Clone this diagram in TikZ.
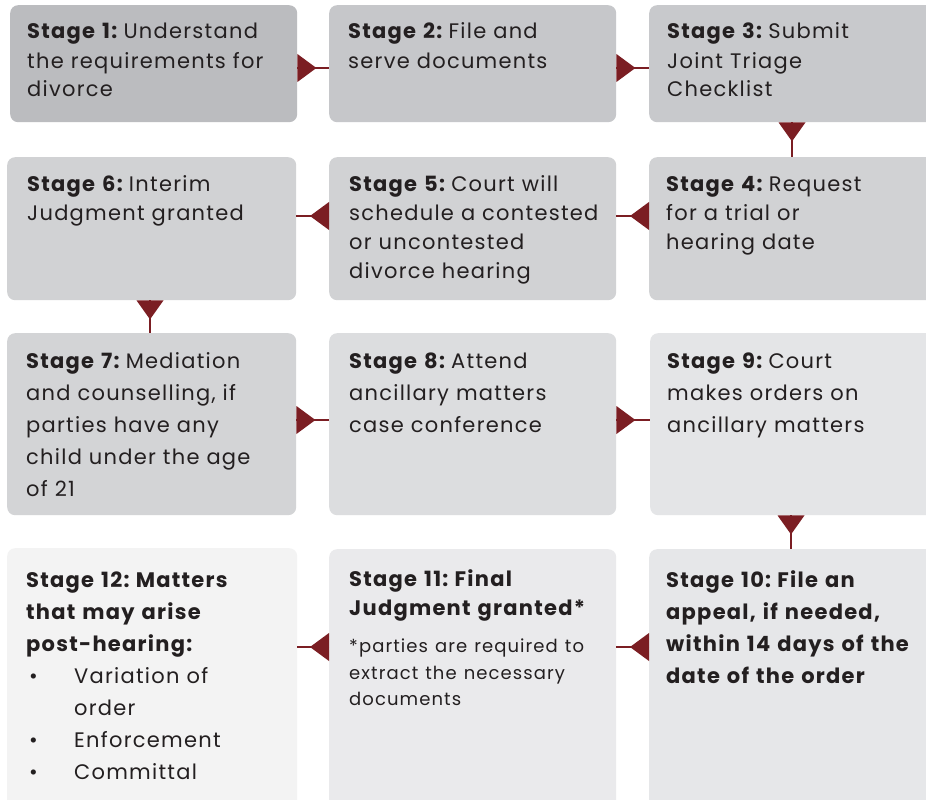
\documentclass[tikz,border=0pt]{standalone}
\usepackage{fontspec}
\setmainfont{Poppins}[LetterSpace=6]
\usetikzlibrary{calc}
\definecolor{ink}{HTML}{231F20}
\definecolor{arr}{HTML}{7B1E23}
\definecolor{cA}{HTML}{BBBCBF}
\definecolor{cB}{HTML}{C6C7CA}
\definecolor{cC}{HTML}{C8C9CC}
\definecolor{cD}{HTML}{D1D2D4}
\definecolor{cE}{HTML}{D3D4D6}
\definecolor{cF}{HTML}{DCDDDF}
\definecolor{cG}{HTML}{E4E5E7}
\definecolor{cH}{HTML}{E6E7E9}
\definecolor{cI}{HTML}{EAEAEC}
\definecolor{cJ}{HTML}{F3F3F3}
\newcommand{\rowA}{\fontsize{21}{29}\selectfont}
\newcommand{\rowB}{\fontsize{21}{32}\selectfont}
\newcommand{\notefont}{\fontsize{18}{26.5}\selectfont}
\newcommand{\stg}[1]{\textbf{Stage #1:}\hspace{5pt}}
\begin{document}
\begin{tikzpicture}[x=1pt,y=-1pt,
  stagebox/.style={rectangle, rounded corners=8pt, draw=none, inner sep=0pt, anchor=north west},
  stagetext/.style={anchor=base west, inner sep=0pt, text width=285pt, align=left, text=ink},
  conn/.style={draw=arr, line width=1.8pt},
  tri/.style={fill=arr, draw=none}]
\useasboundingbox (0,0) rectangle (926,800);
\fill[white] (0,0) rectangle (926,800);
\clip (0,0) rectangle (926,800);

% boxes
\node[stagebox, fill=cA, minimum width=287pt, minimum height=117pt] (b1) at (10,5) {};
\node[stagebox, fill=cB, minimum width=287pt, minimum height=117pt] (b2) at (329,5) {};
\node[stagebox, fill=cC, minimum width=300pt, minimum height=117pt] (b3) at (649,5) {};
\node[stagebox, fill=cD, minimum width=289pt, minimum height=143pt] (b6) at (7,157) {};
\node[stagebox, fill=cD, minimum width=287pt, minimum height=143pt] (b5) at (329,157) {};
\node[stagebox, fill=cD, minimum width=300pt, minimum height=143pt] (b4) at (649,157) {};
\node[stagebox, fill=cE, minimum width=289pt, minimum height=182pt] (b7) at (7,333) {};
\node[stagebox, fill=cF, minimum width=287pt, minimum height=182pt] (b8) at (329,333) {};
\node[stagebox, fill=cG, minimum width=300pt, minimum height=182pt] (b9) at (650,333) {};
\node[stagebox, fill=cJ, minimum width=290pt, minimum height=270pt] (b12) at (7,548) {};
\node[stagebox, fill=cI, minimum width=287pt, minimum height=270pt] (b11) at (329,549) {};
\node[stagebox, fill=cH, minimum width=300pt, minimum height=270pt] (b10) at (649,549) {};

% texts
\node[stagetext, font=\rowA] (t1) at ($(b1.north west)+(17,34)$) {\stg{1}Understand\\the requirements for\\divorce};
\node[stagetext, font=\rowA] (t2) at ($(b2.north west)+(19,34)$) {\stg{2}File and\\serve documents};
\node[stagetext, font=\rowA] (t3) at ($(b3.north west)+(18,34)$) {\stg{3}Submit\\Joint Triage\\Checklist};
\node[stagetext, font=\rowA] (t6) at ($(b6.north west)+(20,34)$) {\stg{6}Interim\\Judgment granted};
\node[stagetext, font=\rowA] (t5) at ($(b5.north west)+(20,34)$) {\stg{5}Court will\\schedule a contested\\or uncontested\\divorce hearing};
\node[stagetext, font=\rowA] (t4) at ($(b4.north west)+(17,34)$) {\stg{4}Request\\for a trial or\\hearing date};
\node[stagetext, font=\rowB] (t7) at ($(b7.north west)+(19,35)$) {\stg{7}Mediation\\and counselling, if\\parties have any\\child under the age\\of 21};
\node[stagetext, font=\rowB] (t8) at ($(b8.north west)+(20,35)$) {\stg{8}Attend\\ancillary matters\\case conference};
\node[stagetext, font=\rowB] (t9) at ($(b9.north west)+(17,35)$) {\stg{9}Court\\makes orders on\\ancillary matters};
\node[stagetext, font=\rowB] (t12) at ($(b12.north west)+(19,39)$) {\stg{12}\textbf{Matters}\\\textbf{that may arise}\\\textbf{post-hearing:}\\\hspace*{3pt}\makebox[45pt][l]{•}Variation of\\\hspace*{48pt}order\\\hspace*{3pt}\makebox[45pt][l]{•}Enforcement\\\hspace*{3pt}\makebox[45pt][l]{•}Committal};
\node[stagetext, font=\rowA] (t11) at ($(b11.north west)+(20,37)$) {\stg{11}\textbf{Final}\\\textbf{Judgment granted*}\par\vspace{11pt}{\notefont *parties are required to\\extract the necessary\\documents\par}};
\node[stagetext, font=\rowB] (t10) at ($(b10.north west)+(17,38)$) {\stg{10}\textbf{File an}\\\textbf{appeal, if needed,}\\\textbf{within 14 days of the}\\\textbf{date of the order}};

% connectors
\draw[conn] ($(b1.north east)+(0,63)$) coordinate (s12) -- (s12 -| b2.west);
\fill[tri] (s12) ++(0,-14) -- ++(19,14) -- ++(-19,14) -- cycle;
\draw[conn] ($(b2.north east)+(0,63)$) coordinate (s23) -- (s23 -| b3.west);
\fill[tri] (s23) ++(0,-14) -- ++(19,14) -- ++(-19,14) -- cycle;
\draw[conn] ($(b3.south west)+(143,0)$) coordinate (s34) -- (s34 |- b4.north);
\fill[tri] (s34) ++(-13.5,0) -- ++(13.5,19) -- ++(13.5,-19) -- cycle;
\draw[conn] ($(b4.north west)+(0,59)$) coordinate (s45) -- (s45 -| b5.east);
\fill[tri] (s45) ++(0,-14) -- ++(-19,14) -- ++(19,14) -- cycle;
\draw[conn] ($(b5.north west)+(0,59)$) coordinate (s56) -- (s56 -| b6.east);
\fill[tri] (s56) ++(0,-14) -- ++(-19,14) -- ++(19,14) -- cycle;
\draw[conn] ($(b6.south west)+(143,0)$) coordinate (s67) -- (s67 |- b7.north);
\fill[tri] (s67) ++(-13.5,0) -- ++(13.5,19) -- ++(13.5,-19) -- cycle;
\draw[conn] ($(b7.north east)+(0,87)$) coordinate (s78) -- (s78 -| b8.west);
\fill[tri] (s78) ++(0,-14) -- ++(19,14) -- ++(-19,14) -- cycle;
\draw[conn] ($(b8.north east)+(0,87)$) coordinate (s89) -- (s89 -| b9.west);
\fill[tri] (s89) ++(0,-14) -- ++(19,14) -- ++(-19,14) -- cycle;
\draw[conn] ($(b9.south west)+(141,0)$) coordinate (s910) -- (s910 |- b10.north);
\fill[tri] (s910) ++(-13.5,0) -- ++(13.5,19) -- ++(13.5,-19) -- cycle;
\draw[conn] ($(b10.north west)+(0,98)$) coordinate (s1011) -- (s1011 -| b11.east);
\fill[tri] (s1011) ++(0,-14) -- ++(-19,14) -- ++(19,14) -- cycle;
\draw[conn] ($(b11.north west)+(0,98)$) coordinate (s1112) -- (s1112 -| b12.east);
\fill[tri] (s1112) ++(0,-14) -- ++(-19,14) -- ++(19,14) -- cycle;
\end{tikzpicture}
\end{document}
